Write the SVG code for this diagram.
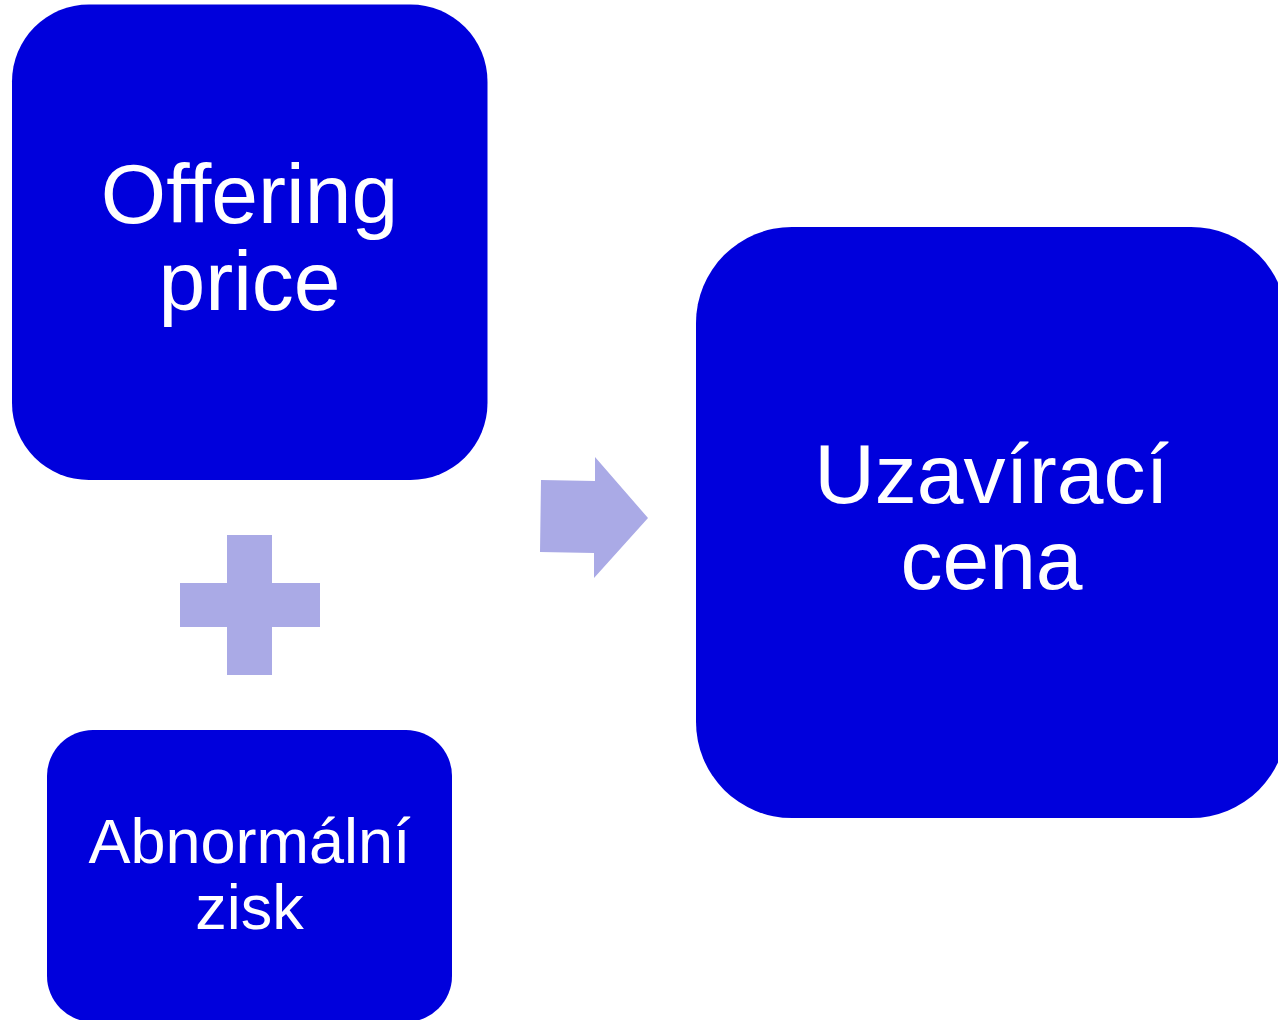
<svg xmlns="http://www.w3.org/2000/svg" width="1278" height="1020" viewBox="0 0 1278 1020">
<style>
.box{fill:#0000DC;}
.lbl{fill:#FFFFFF;font-family:"Liberation Sans",Arial,sans-serif;text-anchor:middle;}
.sym{fill:#AAAAE6;}
</style>
<rect width="1278" height="1020" fill="#FFFFFF"/>
<g id="offering-price">
<rect class="box" x="12" y="4.5" width="475.5" height="475.5" rx="77" ry="77"/>
<text class="lbl" x="249.5" y="223" font-size="84">Offering</text>
<text class="lbl" x="249.5" y="310" font-size="84">price</text>
</g>
<g id="abnormalni-zisk">
<rect class="box" x="47" y="730" width="405" height="292" rx="46" ry="46"/>
<text class="lbl" x="249.5" y="863" font-size="63">Abnormální</text>
<text class="lbl" x="249.5" y="929" font-size="63">zisk</text>
</g>
<g id="uzaviraci-cena">
<rect class="box" x="696" y="227" width="591" height="591" rx="96" ry="96"/>
<text class="lbl" x="991.5" y="503" font-size="84">Uzavírací</text>
<text class="lbl" x="991.5" y="589" font-size="84">cena</text>
</g>
<g id="connectors">
<path id="plus" class="sym" d="M227,535H272V583H320V627H272V675H227V627H180V583H227Z"/>
<polygon id="arrow" class="sym" points="541,480 595,481 595,457 648,518 594,578 594,553 540,552"/>
</g>
</svg>
